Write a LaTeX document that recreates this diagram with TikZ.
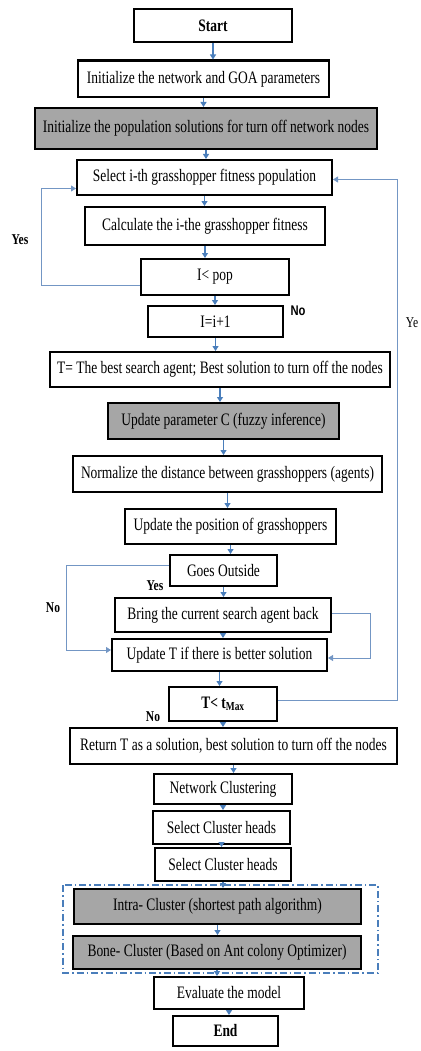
\documentclass[tikz,border=0pt]{standalone}
\usepackage{fontspec}
\setmainfont{Liberation Serif}[FakeStretch=0.77]
\newfontfamily\labsans{Liberation Sans}[FakeStretch=0.8]
\usepackage{xcolor}
\usepackage{tikz}
\usetikzlibrary{arrows.meta}
\definecolor{flowblue}{HTML}{4A7EBB}
\definecolor{loopblue}{HTML}{7396C4}
\definecolor{boxgray}{HTML}{A6A6A6}

\begin{document}
\begin{tikzpicture}[x=1pt, y=-1pt,
  proc/.style 2 args={draw=black, line width=2.2pt, fill=white, inner sep=0pt,
    minimum width=#1pt-2.2pt, minimum height=#2pt-2.2pt,
    font=\fontsize{17.5}{17.5}\selectfont},
  procg/.style 2 args={proc={#1}{#2}, fill=boxgray},
  flow/.style={flowblue, line width=1.1pt, -{Triangle[width=6pt,length=5pt]}},
  back/.style={loopblue, line width=0.8pt, -{Triangle[width=6pt,length=5pt]}, color=loopblue},
  lab/.style={font=\fontsize{15}{15}\selectfont\bfseries}]
  \useasboundingbox (0,0) rectangle (420,1051);
  % main column of steps
  \node[proc={160}{35}]  (start)   at (213,25.5)  {\textbf{Start}};
  \node[proc={253}{39}]  (initnet) at (203.5,79)  {Initialize the network and GOA parameters};
  \node[procg={344}{43}] (initpop) at (206,128.5) {Initialize the population solutions for turn off network nodes};
  \node[proc={257}{37}]  (select)  at (204.5,177.5) {Select i-th grasshopper fitness population};
  \node[proc={242}{40}]  (calc)    at (205,226)   {Calculate the i-the grasshopper fitness};
  \node[proc={150}{38}]  (ipop)    at (215,277)   {I< pop};
  \node[proc={137}{33}]  (incr)    at (215.5,321.5) {I=i+1};
  \node[proc={342}{37}]  (tbest)   at (220,369.5) {T= The best search agent; Best solution to turn off the nodes};
  \node[procg={233}{38}] (updc)    at (223.5,421) {Update parameter C (fuzzy inference)};
  \node[proc={311}{38}]  (norm)    at (227.5,474) {Normalize the distance between grasshoppers (agents)};
  \node[proc={213}{37}]  (updpos)  at (230.5,526.5) {Update the position of grasshoppers};
  \node[proc={109}{33}]  (goes)    at (223.5,570.5) {Goes Outside};
  \node[proc={218}{36}]  (bring)   at (223,615)   {Bring the current search agent back};
  \node[proc={217}{34}]  (updt)    at (219.5,655) {Update T if there is better solution};
  \node[proc={110}{36}]  (tmax)    at (223,704)   {\textbf{T< t\textsubscript{Max}}};
  \node[proc={329}{38}]  (ret)     at (233.5,746) {Return T as a solution, best solution to turn off the nodes};
  \node[proc={140}{32}]  (clust)   at (223,789)   {Network Clustering};
  \node[proc={139}{35}]  (schA)    at (221.5,827.5) {Select Cluster heads};
  \node[proc={138}{35}]  (schB)    at (223,864.5) {Select Cluster heads};
  \node[procg={289}{37}] (intra)   at (217.5,906.5) {Intra- Cluster (shortest path algorithm)};
  \node[procg={290}{35}] (bone)    at (217,952.5) {Bone- Cluster (Based on Ant colony Optimizer)};
  \node[proc={152}{34}]  (eval)    at (229,993)   {Evaluate the model};
  \node[proc={107}{32}]  (fin)     at (225.5,1031) {\textbf{End}};
  % dash-dot frame round the two cluster steps
  \draw[flowblue, line width=1.6pt, dash pattern=on 7pt off 3pt on 1.5pt off 3pt] (63,885) rectangle (378,973);
  % straight arrows
  \foreach \a/\b in {start/initnet, initnet/initpop, initpop/select, select/calc,
      calc/ipop, ipop/incr, incr/tbest, tbest/updc, updc/norm, norm/updpos,
      updpos/goes, goes/bring, bring/updt, updt/tmax, tmax/ret, ret/clust,
      clust/schA, schA/schB, schB/intra, intra/bone, bone/eval, eval/fin}
    {\draw[flow] (\a.south) -- (\a.south |- \b.north);}
  % loops back
  \draw[back] ([yshift=-8pt]ipop.west) -- ++(-99,0) |- ([yshift=-11pt]select.west);
  \draw[back] ([yshift=4pt]tmax.east) -- ++(119,0) |- ([yshift=-2pt]select.east);
  \draw[back] ([yshift=5pt]goes.west) -- ++(-103,0) |- ([yshift=5pt]updt.west);
  \draw[back] ([yshift=2pt]bring.east) -- ++(38,0) |- ([yshift=-3pt]updt.east);
  % branch labels
  \node[lab] (yesA) at (20,240)  {Yes};
  \node[lab, font=\fontsize{14}{14}\selectfont\labsans\bfseries] (noA) at (298,311) {No};
  \node[font=\fontsize{15}{15}\selectfont] (yesB) at (412,323) {Ye};
  \node[lab] (yesC) at (155,586) {Yes};
  \node[lab] (noB)  at (53,608)  {No};
  \node[lab] (noC)  at (153,717) {No};
\end{tikzpicture}
\end{document}
